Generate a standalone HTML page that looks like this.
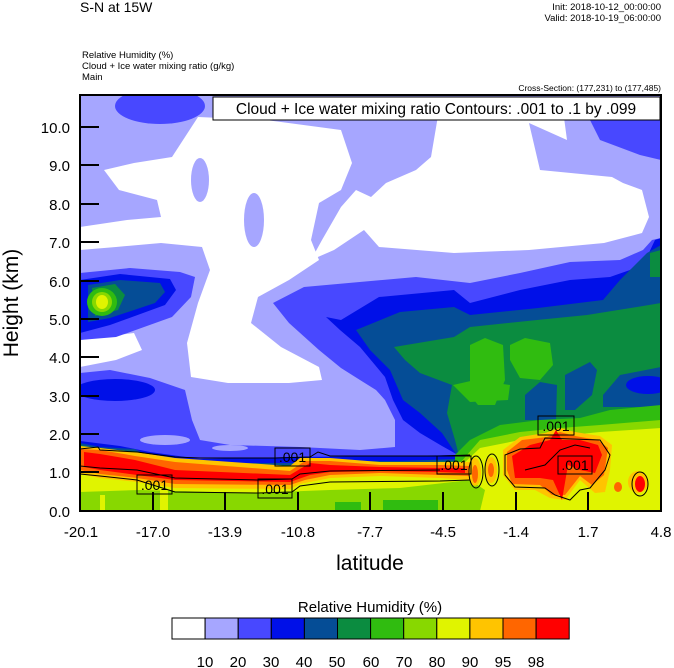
<!DOCTYPE html>
<html><head><meta charset="utf-8"><style>
html,body{margin:0;padding:0;background:#fff;}
svg{display:block;font-family:"Liberation Sans",Arial,sans-serif;}
</style></head><body>
<svg width="674" height="668" viewBox="0 0 674 668" xmlns="http://www.w3.org/2000/svg">
<defs><clipPath id="pc"><rect x="80" y="95" width="581" height="416"/></clipPath></defs>
<text x="80" y="12" font-size="14">S-N at 15W</text>
<text x="661" y="10" font-size="9.5" text-anchor="end">Init: 2018-10-12_00:00:00</text>
<text x="661" y="21" font-size="9.5" text-anchor="end">Valid: 2018-10-19_06:00:00</text>
<text x="82" y="58" font-size="9.5">Relative Humidity   (%)</text>
<text x="82" y="69" font-size="9.5">Cloud + Ice water mixing ratio   (g/kg)</text>
<text x="82" y="80" font-size="9.5">Main</text>
<text x="661" y="91" font-size="8.5" text-anchor="end">Cross-Section: (177,231) to (177,485)</text>
<g clip-path="url(#pc)">
<rect x="80" y="95" width="581" height="416" fill="#a6a6ff"/>
<!-- 30 (drawn first in the lower part) -->
<polygon fill="#4848ff" points="80,373 110,370 150,378 185,390 192,420 200,440 230,445 300,447 360,450 395,447 395,420 385,400 376,390 360,380 341,368 319,350 289,323 273,303 304,287 416,277 470,283 520,273 570,262 620,260 643,250 652,240 661,238 661,511 80,511"/>
<ellipse cx="165" cy="440" rx="25" ry="5" fill="#a6a6ff"/>
<ellipse cx="230" cy="448" rx="18" ry="3" fill="#a6a6ff"/>
<!-- white -->
<polygon fill="#fff" points="80,227 127,220 161,217 157,200 119,190 104,170 134,163 172,157 198,117 266,120 341,130 352,163 341,190 319,203 311,240 319,260 289,280 258,297 251,323 281,347 319,367 322,380 289,383 228,383 191,377 187,343 198,303 210,270 202,247 161,243 116,247 80,250"/>
<ellipse cx="200" cy="180" rx="9" ry="22" fill="#a6a6ff"/>
<ellipse cx="254" cy="220" rx="10" ry="27" fill="#a6a6ff"/>
<polygon fill="#fff" points="356,190 341,207 322,240 311,260 334,250 364,230 379,247 454,253 529,250 604,243 642,233 649,217 642,190 623,183 612,177 540,170 529,123 567,140 563,110 439,110 431,157 416,170 386,183 371,197"/>
<polygon fill="#fff" points="80,340 134,333 142,350 116,360 80,367"/>
<ellipse cx="160" cy="106" rx="45" ry="18" fill="#4848ff"/>
<polygon fill="#4848ff" points="590,120 661,112 661,160 640,155 600,140"/>
<polygon fill="#4848ff" points="80,273 130,268 180,272 195,277 191,297 172,317 116,337 80,340"/>
<!-- 40 -->
<polygon fill="#0010e8" points="80,280 120,274 170,279 176,290 165,305 110,325 80,333"/>
<ellipse cx="115" cy="390" rx="40" ry="11" fill="#0010e8"/>
<polygon fill="#0010e8" points="326,317 341,320 379,297 454,290 470,303 520,290 570,280 610,277 630,270 647,257 655,240 661,238 661,511 460,511 458,455 442,446 420,433 403,420 393,400 385,377 360,347 340,330"/>
<polygon fill="#0010e8" points="80,441 120,446 150,452 200,459 300,457 400,456 455,455 455,466 80,466"/>
<!-- 50 -->
<polygon fill="#054d96" points="88,285 120,280 160,283 165,292 155,303 110,318 88,322"/>
<polygon fill="#054d96" points="356,330 400,312 454,307 470,315 538,308 603,300 620,280 647,253 661,245 661,511 460,511 460,460 442,433 420,413 403,400 390,370 370,350"/>
<!-- 60 -->
<polygon fill="#0b8c40" points="92,288 115,284 125,295 118,310 95,316"/>
<polygon fill="#0b8c40" points="394,347 454,337 470,327 537,320 587,315 637,307 661,303 661,511 462,511 460,460 455,440 447,413 452,385 420,373 405,360"/>
<polygon fill="#0b8c40" points="650,253 661,250 661,277 650,277"/>
<polygon fill="#054d96" points="525,395 540,382 557,385 556,420 525,420"/>
<polygon fill="#054d96" points="565,375 590,362 597,370 592,395 575,410 565,410"/>
<polygon fill="#054d96" points="603,395 620,375 661,367 661,407 603,407"/>
<ellipse cx="648" cy="385" rx="22" ry="9" fill="#0010e8"/>
<!-- 70 -->
<ellipse cx="102" cy="302" rx="15" ry="14" fill="#30bc10"/>
<ellipse cx="102" cy="302" rx="10" ry="10" fill="#88d800"/>
<ellipse cx="102" cy="302" rx="6" ry="7" fill="#e0f400"/>
<polygon fill="#30bc10" points="470,345 485,338 503,345 505,380 495,405 478,405 470,395"/>
<polygon fill="#30bc10" points="510,345 525,338 550,343 553,365 540,380 520,378 510,360"/>
<polygon fill="#30bc10" points="453,385 475,380 510,385 508,400 470,402"/>
<polygon fill="#30bc10" points="455,455 470,440 500,425 540,420 580,418 610,410 661,405 661,511 455,511"/>
<!-- lower band left -->
<polygon fill="#054d96" points="80,443 100,447 135,449 145,454 170,457 185,460 200,463 300,463 340,461 400,461 455,459 455,511 80,511"/>
<polygon fill="#0b8c40" points="80,445 100,449 135,451 145,456 170,459 185,462 200,465 300,465 340,463 400,463 455,461 455,511 80,511"/>
<polygon fill="#30bc10" points="80,446 100,450 135,452 145,457 170,460 185,463 200,466 300,466 340,464 400,464 455,462 455,511 80,511"/>
<polygon fill="#88d800" points="80,447 100,451 135,453 145,458 170,461 185,464 200,467 300,467 340,465 400,465 460,463 480,440 520,432 560,428 600,425 661,420 661,511 80,511"/>
<polygon fill="#e0f400" points="80,448 100,452 135,454 145,459 170,462 185,465 200,468 300,468 340,466 400,466 462,465 480,448 520,440 560,436 600,432 661,428 661,511 80,511"/>
<!-- bottom green -->
<polygon fill="#88d800" points="80,492 140,490 250,493 330,490 400,488 470,480 485,490 480,511 80,511"/>
<rect x="335" y="502" width="26" height="9" fill="#30bc10"/>
<rect x="383" y="500" width="55" height="11" fill="#30bc10"/>
<rect x="100" y="495" width="5" height="16" fill="#e0f400"/>
<rect x="160" y="490" width="8" height="21" fill="#e0f400"/>
<!-- orange + red band left -->
<polygon fill="#ffc400" points="80,446 100,448 135,452 175,458 290,466 300,458 330,458 380,462 440,462 470,462 470,480 440,478 380,476 330,478 300,484 290,489 175,488 137,482 100,478 80,474"/>
<polygon fill="#ff6600" points="80,449 100,450 135,456 175,462 290,471 305,461 330,461 380,465 440,465 470,466 470,476 440,475 380,473 330,475 305,480 290,485 175,484 137,478 100,474 80,470"/>
<polygon fill="#ff0000" points="84,452 100,454 135,460 175,470 290,475 310,463 330,465 380,467 440,468 465,468 465,473 440,472 380,471 330,472 310,475 290,482 175,480 137,475 100,470 84,467"/>
<!-- right blobs -->
<polygon fill="#ffc400" points="503,450 520,437 545,433 560,428 575,432 600,436 612,445 610,470 605,492 595,493 580,480 565,500 550,498 535,490 515,490 503,475"/>
<polygon fill="#ff6600" points="507,452 522,440 547,437 560,432 575,436 598,440 608,448 604,475 592,485 580,476 565,495 552,495 540,485 512,484 507,470"/>
<polygon fill="#ff0000" points="512,456 530,445 550,440 556,430 562,440 580,440 598,445 602,455 595,473 580,470 568,465 562,500 553,480 540,478 515,478"/>
<ellipse cx="475" cy="472" rx="6" ry="14" fill="#ffc400"/>
<ellipse cx="475" cy="474" rx="3" ry="9" fill="#ff6600"/>
<ellipse cx="491" cy="470" rx="6" ry="13" fill="#ffc400"/>
<ellipse cx="491" cy="470" rx="3" ry="7" fill="#ff6600"/>
<ellipse cx="638" cy="482" rx="10" ry="11" fill="#ffc400"/>
<ellipse cx="640" cy="484" rx="5" ry="8" fill="#ff0000"/>
<ellipse cx="618" cy="487" rx="4" ry="5" fill="#ff6600"/>
<!-- contours -->
<g fill="none" stroke="#000" stroke-width="1">
<polyline points="80,449 98,447 100,450 137,452 175,457 200,458 275,458 310,457 318,452 330,456 440,456 470,455"/>
<polyline points="80,466 100,468 137,470 175,478 258,480 292,479 300,474 330,471 440,470"/>
<polyline points="80,474 100,476 137,480 175,492 258,493 292,492 300,486 330,482 440,481 470,480"/>
<path d="M505,455 L520,449 L540,448 L545,438 L600,440 L610,455 L605,470 L590,488 L580,490 L570,500 L555,495 L545,488 L515,487 L505,475 Z"/>
<path d="M525,470 L545,465 L560,450 L575,445 L590,448"/>
<ellipse cx="476" cy="472" rx="7" ry="16"/>
<ellipse cx="492" cy="470" rx="7" ry="16"/>
<ellipse cx="640" cy="484" rx="8" ry="12"/>
</g>
<g fill="none" stroke="#000" stroke-width="1">
<rect x="137" y="475" width="35" height="19"/><rect x="275" y="448" width="35" height="18"/>
<rect x="258" y="479" width="34" height="19"/><rect x="437" y="456" width="34" height="18"/>
<rect x="538" y="416" width="36" height="19"/><rect x="558" y="456" width="34" height="18"/>
</g>
<g font-size="14" text-anchor="middle">
<text x="154.5" y="490">.001</text><text x="292.5" y="462">.001</text>
<text x="275" y="494">.001</text><text x="454" y="470">.001</text>
<text x="556" y="431">.001</text><text x="575" y="470">.001</text>
</g>
</g>
<rect x="213" y="97" width="447" height="23" fill="#fff" stroke="#000" stroke-width="1"/>
<text x="436" y="114" font-size="15.5" text-anchor="middle">Cloud + Ice water mixing ratio Contours: .001 to .1 by .099</text>
<rect x="80" y="95" width="581" height="416" fill="none" stroke="#000" stroke-width="2"/>
<g stroke="#000" stroke-width="2">
<line x1="80" y1="127" x2="99" y2="127"/><line x1="80" y1="165" x2="99" y2="165"/><line x1="80" y1="204" x2="99" y2="204"/><line x1="80" y1="242" x2="99" y2="242"/><line x1="80" y1="281" x2="99" y2="281"/><line x1="80" y1="319" x2="99" y2="319"/><line x1="80" y1="357" x2="99" y2="357"/><line x1="80" y1="396" x2="99" y2="396"/><line x1="80" y1="434" x2="99" y2="434"/><line x1="80" y1="472" x2="99" y2="472"/>
<line x1="153" y1="511" x2="153" y2="492"/><line x1="225" y1="511" x2="225" y2="492"/><line x1="298" y1="511" x2="298" y2="492"/><line x1="370" y1="511" x2="370" y2="492"/><line x1="443" y1="511" x2="443" y2="492"/><line x1="516" y1="511" x2="516" y2="492"/><line x1="588" y1="511" x2="588" y2="492"/>
</g>
<g font-size="15" text-anchor="end">
<text x="70" y="133">10.0</text><text x="70" y="171">9.0</text><text x="70" y="210">8.0</text><text x="70" y="248">7.0</text><text x="70" y="287">6.0</text><text x="70" y="325">5.0</text><text x="70" y="363">4.0</text><text x="70" y="402">3.0</text><text x="70" y="440">2.0</text><text x="70" y="478">1.0</text><text x="70" y="517">0.0</text>
</g>
<g font-size="15" text-anchor="middle">
<text x="81" y="537">-20.1</text><text x="153" y="537">-17.0</text><text x="225" y="537">-13.9</text><text x="298" y="537">-10.8</text><text x="370" y="537">-7.7</text><text x="443" y="537">-4.5</text><text x="516" y="537">-1.4</text><text x="588" y="537">1.7</text><text x="661" y="537">4.8</text>
</g>
<text x="370" y="570" font-size="21" text-anchor="middle">latitude</text>
<text transform="translate(18,303) rotate(-90)" font-size="21" text-anchor="middle">Height (km)</text>
<text x="370" y="612" font-size="15" text-anchor="middle">Relative Humidity  (%)</text>
<g stroke="#000" stroke-width="1">
<rect x="172" y="618" width="33.1" height="21" fill="#fff"/>
<rect x="205.1" y="618" width="33.1" height="21" fill="#a6a6ff"/>
<rect x="238.2" y="618" width="33.1" height="21" fill="#4848ff"/>
<rect x="271.3" y="618" width="33.1" height="21" fill="#0010e8"/>
<rect x="304.4" y="618" width="33.1" height="21" fill="#054d96"/>
<rect x="337.5" y="618" width="33.1" height="21" fill="#0b8c40"/>
<rect x="370.6" y="618" width="33.1" height="21" fill="#30bc10"/>
<rect x="403.7" y="618" width="33.1" height="21" fill="#88d800"/>
<rect x="436.8" y="618" width="33.1" height="21" fill="#e0f400"/>
<rect x="469.9" y="618" width="33.1" height="21" fill="#ffc400"/>
<rect x="503" y="618" width="33.1" height="21" fill="#ff6600"/>
<rect x="536.1" y="618" width="33.1" height="21" fill="#ff0000"/>
</g>
<g font-size="15" text-anchor="middle">
<text x="205" y="667">10</text><text x="238" y="667">20</text><text x="271" y="667">30</text><text x="304" y="667">40</text><text x="337" y="667">50</text><text x="371" y="667">60</text><text x="404" y="667">70</text><text x="437" y="667">80</text><text x="470" y="667">90</text><text x="503" y="667">95</text><text x="536" y="667">98</text>
</g>
</svg>
</body></html>
